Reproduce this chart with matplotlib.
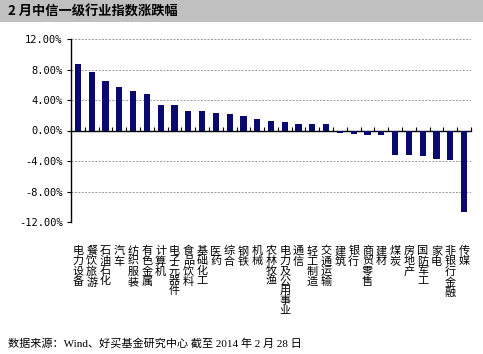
# -*- coding: utf-8 -*-

import numpy as np
import matplotlib
matplotlib.use("Agg")
import matplotlib.pyplot as plt
from matplotlib.patches import Rectangle
from matplotlib.transforms import blended_transform_factory

plt.rcParams['font.family'] = ['Noto Sans CJK SC', 'DejaVu Sans']
plt.rcParams['axes.unicode_minus'] = False

# 中信一级行业 2 月涨跌幅（%）
industries = ["电力设备", "餐饮旅游", "石油石化", "汽车", "纺织服装", "有色金属",
              "计算机", "电子元器件", "食品饮料", "基础化工", "医药", "综合",
              "钢铁", "机械", "农林牧渔", "电力及公用事业", "通信", "轻工制造",
              "交通运输", "建筑", "银行", "商贸零售", "建材", "煤炭", "房地产",
              "国防军工", "家电", "非银行金融", "传媒"]
changes = [8.75, 7.70, 6.50, 5.75, 5.20, 4.75,
           3.30, 3.30, 2.60, 2.60, 2.25, 2.10,
           1.95, 1.55, 1.30, 1.15, 0.80, 0.80,
           0.80, -0.35, -0.50, -0.65, -0.65, -3.25, -3.25,
           -3.40, -3.75, -3.90, -10.70]
yticks = [-12, -8, -4, 0, 4, 8, 12]

fig = plt.figure(figsize=(4.83, 3.54), dpi=100)

# 顶部灰色标题栏
fig.patches.append(Rectangle((0, 1 - 22 / 354), 1, 22 / 354, transform=fig.transFigure,
                             facecolor="#c0c0c0", edgecolor="none", zorder=0))
fig.text(8 / 483, 1 - 12 / 354, "2 月中信一级行业指数涨跌幅", fontsize=9.5,
         fontweight="bold", va="center", ha="left", color="black")

ax = fig.add_axes([71 / 483, 1 - 222 / 354, 400 / 483, 183 / 354])
x = np.arange(len(industries))
ax.bar(x, changes, width=0.45, color="#0a0a6e", zorder=3)

ax.set_xlim(-0.5, len(industries) - 0.5)
ax.set_ylim(-12, 12)
ax.set_yticks(yticks)
ax.set_yticklabels(["{:.2f}%".format(v) for v in yticks], family="DejaVu Sans Mono", fontsize=7.5)
ax.tick_params(axis="y", direction="out", length=3, width=0.8, pad=3)
for v in yticks:
    if v != 0:
        ax.axhline(v, color="#9a9a9a", lw=0.7, ls=(0, (2, 1.5)), zorder=1)

# 零轴及类别刻度
ax.spines["bottom"].set_position(("data", 0))
ax.spines["bottom"].set_linewidth(1.0)
ax.spines["top"].set_visible(False)
ax.spines["right"].set_visible(False)
ax.spines["left"].set_linewidth(1.0)
ax.set_xticks(np.arange(len(industries) + 1) - 0.5)
ax.set_xticklabels([])
ax.tick_params(axis="x", direction="in", length=3, width=0.8)

# 竖排类别标签
trans = blended_transform_factory(ax.transData, fig.transFigure)
for i, name in enumerate(industries):
    ax.text(i, 1 - 246 / 354, "\n".join(name), transform=trans, ha="center", va="top",
            fontsize=8, linespacing=1.0, clip_on=False)

fig.text(8 / 483, 1 - 343 / 354, "数据来源：Wind、好买基金研究中心 截至 2014 年 2 月 28 日",
         fontsize=8, va="center", ha="left", family=["Liberation Serif", "Noto Sans CJK SC"])

fig.savefig("out.png", dpi=100)
